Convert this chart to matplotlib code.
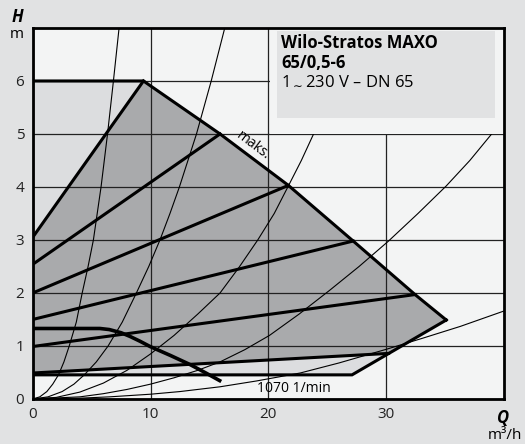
import matplotlib.pyplot as plt
from matplotlib.patches import Polygon, Rectangle

plt.rcParams['font.family'] = ['Open Sans', 'DejaVu Sans']

# max curve (upper right boundary), m3/h and m
max_q = [0, 9.4, 15.9, 21.7, 27.2, 32.45, 35.1]
max_h = [6.0, 6.0, 5.0, 4.03, 2.98, 1.97, 1.49]

# lower boundary of the field
low_q = [35.1, 27.1, 0]
low_h = [1.49, 0.455, 0.455]

# speed lines: start on the H axis, end on the max curve
speed_h0 = [3.05, 2.54, 2.0, 1.5, 0.99, 0.49]
speed_q1 = [9.4, 15.9, 21.7, 27.2, 32.45, 30.2]
speed_h1 = [6.0, 5.0, 4.03, 2.98, 1.97, 0.86]

# thick curve on the lower left
low_curve_q = [0, 5.7, 6.5, 7.5, 8.26, 9.1, 9.96, 11.7, 13.35, 14.7, 16.0]
low_curve_h = [1.33, 1.33, 1.31, 1.25, 1.18, 1.09, 0.99, 0.82, 0.65, 0.49, 0.33]

# system curves (thin lines through the origin)
sys_curves = [
    ([0, 0.6, 1.2, 1.7, 2.2, 2.65, 3.1, 3.7, 4.2, 4.7, 5.15, 5.8, 6.35, 6.85, 7.33],
     [0, 0.04, 0.14, 0.28, 0.46, 0.7, 1.0, 1.45, 2.0, 2.5, 3.0, 4.0, 5.0, 6.0, 7.0]),
    ([0, 1.3, 2.5, 3.5, 4.4, 5.4, 6.4, 7.6, 8.8, 9.85, 10.8, 11.65, 12.45, 13.9, 15.15, 16.3],
     [0, 0.04, 0.14, 0.28, 0.46, 0.7, 1.0, 1.45, 2.0, 2.5, 3.0, 3.5, 4.0, 5.0, 6.0, 7.0]),
    ([0, 2, 4, 6, 8, 10, 12, 14, 15.9, 17.5, 19.1, 20.5, 21.7, 22.8, 23.9],
     [0, 0.03, 0.13, 0.3, 0.54, 0.85, 1.2, 1.6, 2.0, 2.48, 3.0, 3.5, 4.02, 4.5, 5.03]),
    ([0, 4, 6, 8, 10, 12, 14, 15.9, 18, 20.1, 22.6, 25.2, 27.7, 30.2, 32.7, 35.1, 37.1, 39.1],
     [0, 0.04, 0.1, 0.18, 0.28, 0.4, 0.54, 0.7, 0.93, 1.2, 1.6, 2.05, 2.5, 2.98, 3.5, 4.02, 4.5, 5.04]),
    ([0, 4, 6.5, 10, 12.5, 15.9, 19, 22.7, 26, 30.05, 33, 36.3, 40],
     [0, 0.015, 0.04, 0.09, 0.14, 0.23, 0.34, 0.49, 0.68, 0.94, 1.14, 1.37, 1.66]),
]

x_ticks = [0, 10, 20, 30]
y_ticks = [0, 1, 2, 3, 4, 5, 6]

fig_bg = '#e1e2e3'
ax_bg = '#f3f4f4'
light = '#dcdddf'
dark = '#a9aaac'

fig = plt.figure(figsize=(5.25, 4.44), dpi=100, facecolor=fig_bg)
ax = fig.add_axes([0.0623, 0.1014, 0.8977, 0.8356], facecolor=ax_bg)
ax.set_xlim(0, 40)
ax.set_ylim(0, 7)

# light field: everything between min and max
light_pts = list(zip(max_q, max_h)) + list(zip(low_q, low_h))
ax.add_patch(Polygon(light_pts, closed=True, facecolor=light, edgecolor='none', zorder=1))

# dark field
dark_pts = [(0, speed_h0[0])] + list(zip(max_q[1:], max_h[1:])) + \
    [(speed_q1[-1], speed_h1[-1]), (0, speed_h0[-1])]
ax.add_patch(Polygon(dark_pts, closed=True, facecolor=dark, edgecolor='none', zorder=1))

ax.set_xticks(x_ticks)
ax.set_yticks(y_ticks)
ax.grid(True, color='#222222', lw=0.9, zorder=2)
ax.set_axisbelow(False)
for gl in ax.get_xgridlines() + ax.get_ygridlines():
    gl.set_zorder(2)

for q, h in sys_curves:
    ax.plot(q, h, color='black', lw=0.8, zorder=3)

# blank area behind the title box
ax.add_patch(Rectangle((20.15, 5.0), 19.85, 2.0, facecolor=ax_bg, edgecolor='none', zorder=4))
ax.add_patch(Rectangle((20.75, 5.31), 18.5, 1.64, facecolor=fig_bg, edgecolor='none', zorder=5))

# thick outlines
ax.plot(max_q, max_h, color='black', lw=2.2, zorder=6, solid_joinstyle='miter')
ax.plot(low_q, low_h, color='black', lw=2.2, zorder=6, solid_joinstyle='miter')
for h0, q1, h1 in zip(speed_h0, speed_q1, speed_h1):
    ax.plot([0, q1], [h0, h1], color='black', lw=2.2, zorder=6)
ax.plot(low_curve_q, low_curve_h, color='black', lw=2.6, zorder=6, solid_capstyle='butt')

for s in ax.spines.values():
    s.set_linewidth(2.0)
    s.set_zorder(7)

ax.tick_params(length=0, labelsize=11, pad=6, colors='#222222')

ax.text(18.7, 4.78, 'maks.', rotation=-37, fontsize=10, ha='center', va='center', zorder=8)
ax.text(19.0, 0.19, '1070 1/min', fontsize=10, ha='left', va='center', zorder=8)

ax.text(21.1, 6.72, 'Wilo-Stratos MAXO', fontsize=12, fontweight='bold', va='center', zorder=8)
ax.text(21.1, 6.34, '65/0,5-6', fontsize=12, fontweight='bold', va='center', zorder=8)
ax.text(21.1, 6.0, '1$_{\\sim}$230 V – DN 65', fontsize=12, va='center', zorder=8)

fig.text(17 / 525, 1 - 17 / 444, 'H', fontsize=12, fontweight='bold', style='italic', ha='center', va='center')
fig.text(17 / 525, 1 - 34 / 444, 'm', fontsize=11, ha='center', va='center')
fig.text(503 / 525, 1 - 418 / 444, 'Q', fontsize=12, fontweight='bold', style='italic', ha='center', va='center')
fig.text(522 / 525, 1 - 435 / 444, 'm³/h', fontsize=11, ha='right', va='center')

fig.savefig('out.png', dpi=100, facecolor=fig_bg)
